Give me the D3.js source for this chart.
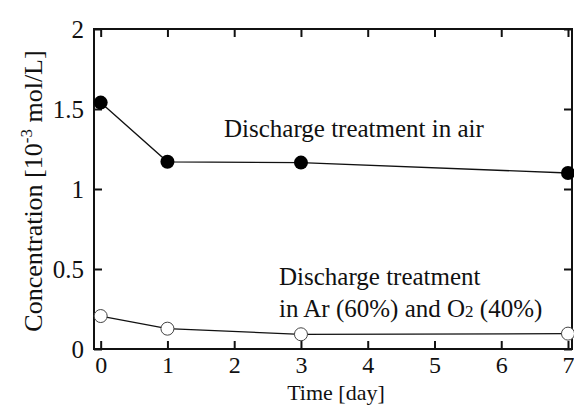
<!DOCTYPE html>
<html>
<head>
<meta charset="utf-8">
<script src="https://cdn.jsdelivr.net/npm/d3@7"></script>
<style>
  body { margin: 0; background: #fff; }
</style>
</head>
<body>
<div id="chart"></div>
<script>
const days = [0, 1, 3, 7];
const airValues = [1.54, 1.17, 1.165, 1.10];
const arO2Values = [0.206, 0.127, 0.092, 0.096];
const xTicks = [0, 1, 2, 3, 4, 5, 6, 7];
const yTicks = [0, 0.5, 1, 1.5, 2];

const width = 574, height = 405;
const marginLeft = 94, marginRight = 2, marginTop = 29, marginBottom = 56;
const serif = "'Times New Roman', Times, 'Liberation Serif', serif";

const svg = d3.select("#chart")
  .append("svg")
  .attr("width", width)
  .attr("height", height)
  .attr("font-family", serif);

const x = d3.scaleLinear()
  .domain([-0.1, 7.06])
  .range([marginLeft, width - marginRight]);

const y = d3.scaleLinear()
  .domain([0, 2])
  .range([height - marginBottom, marginTop]);

const tickLen = 8;

const styleAxis = g => {
  g.attr("font-family", serif);
  g.select(".domain").remove();
  g.selectAll("line").attr("stroke", "#111").attr("stroke-width", 2);
  g.selectAll("text").style("font-size", "25px").style("font-family", serif).attr("fill", "#111");
};

// bottom axis with labels, ticks pointing inward
svg.append("g")
  .attr("transform", `translate(0,${height - marginBottom})`)
  .call(d3.axisBottom(x).tickValues(xTicks).tickSize(-tickLen).tickPadding(16).tickFormat(d3.format("d")))
  .call(styleAxis)
  .call(g => g.selectAll("text").style("font-size", "24px").attr("dy", "0.35em"));

// top ticks
svg.append("g")
  .attr("transform", `translate(0,${marginTop})`)
  .call(d3.axisTop(x).tickValues(xTicks).tickSize(-tickLen).tickFormat(""))
  .call(styleAxis);

// left axis
svg.append("g")
  .attr("transform", `translate(${marginLeft},0)`)
  .call(d3.axisLeft(y).tickValues(yTicks).tickSize(-tickLen).tickPadding(10).tickFormat(d => d3.format("")(d)))
  .call(styleAxis);

// right ticks
svg.append("g")
  .attr("transform", `translate(${width - marginRight},0)`)
  .call(d3.axisRight(y).tickValues(yTicks).tickSize(-tickLen).tickFormat(""))
  .call(styleAxis);

// frame
svg.append("rect")
  .attr("x", marginLeft)
  .attr("y", marginTop)
  .attr("width", width - marginRight - marginLeft)
  .attr("height", height - marginBottom - marginTop)
  .attr("fill", "none")
  .attr("stroke", "#111")
  .attr("stroke-width", 2);

const line = d3.line()
  .x(d => x(d[0]))
  .y(d => y(d[1]));

const airData = days.map((d, i) => [d, airValues[i]]);
const arData = days.map((d, i) => [d, arO2Values[i]]);

[airData, arData].forEach(data => {
  svg.append("path")
    .datum(data)
    .attr("fill", "none")
    .attr("stroke", "#111")
    .attr("stroke-width", 1.3)
    .attr("d", line);
});

svg.selectAll(".air-dot")
  .data(airData)
  .enter()
  .append("circle")
  .attr("class", "air-dot")
  .attr("cx", d => x(d[0]))
  .attr("cy", d => y(d[1]))
  .attr("r", 7)
  .attr("fill", "#000");

svg.selectAll(".ar-dot")
  .data(arData)
  .enter()
  .append("circle")
  .attr("class", "ar-dot")
  .attr("cx", d => x(d[0]))
  .attr("cy", d => y(d[1]))
  .attr("r", 6.5)
  .attr("fill", "#fff")
  .attr("stroke", "#444")
  .attr("stroke-width", 1);

const label = (xp, yp, size) => svg.append("text")
  .attr("x", xp)
  .attr("y", yp)
  .style("font-family", serif)
  .style("font-size", size)
  .attr("fill", "#111");

// annotations
label(224, 137, "25px").text("Discharge treatment in air");
label(279, 285, "25px").text("Discharge treatment");

const t2 = label(279, 317, "25px");
t2.append("tspan").text("in Ar (60%) and O");
t2.append("tspan").style("font-size", "17px").text("2");
t2.append("tspan").text(" (40%)");

// axis titles
label(336, 400, "22px")
  .attr("text-anchor", "middle")
  .text("Time [day]");

const yl = label(0, 0, "26px")
  .attr("transform", "translate(42,191) rotate(-90)")
  .attr("text-anchor", "middle");
yl.append("tspan").text("Concentration [10");
yl.append("tspan").attr("dy", "-10").style("font-size", "17px").text("-3");
yl.append("tspan").attr("dy", "10").text(" mol/L]");
</script>
</body>
</html>
